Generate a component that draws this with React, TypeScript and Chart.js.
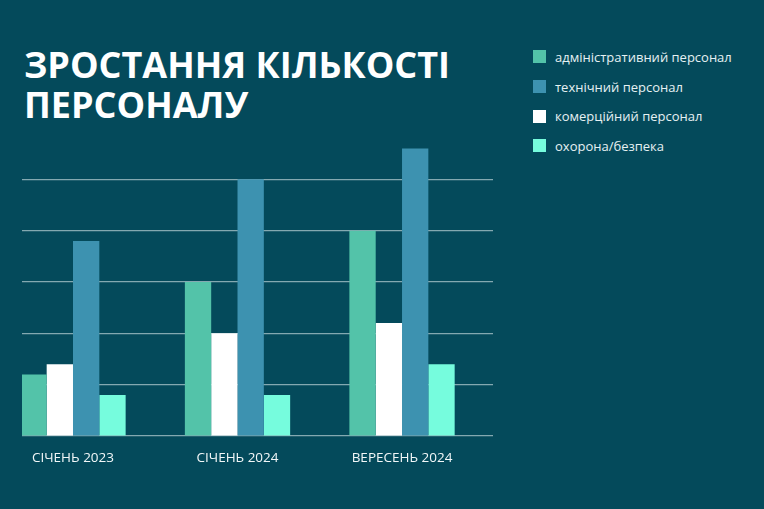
import { useEffect, useRef } from "react";
import { Chart, registerables } from "chart.js";

Chart.register(...registerables);

const categories = ["СІЧЕНЬ 2023", "СІЧЕНЬ 2024", "ВЕРЕСЕНЬ 2024"];
const adminValues = [12, 30, 40];
const commercialValues = [14, 20, 22];
const technicalValues = [38, 50, 56];
const securityValues = [8, 8, 14];

const titleLines = ["ЗРОСТАННЯ КІЛЬКОСТІ", "ПЕРСОНАЛУ"];

const BG = "#044a5b";
const ADMIN = "#53c3a9";
const TECH = "#3d92b0";
const COMM = "#ffffff";
const SEC = "#76fcdd";
const GRID = "#84a9b1";

// legend order differs from bar order
const legendItems = [
  { label: "адміністративний персонал", color: ADMIN },
  { label: "технічний персонал", color: TECH },
  { label: "комерційний персонал", color: COMM },
  { label: "охорона/безпека", color: SEC },
];

const toPoints = (vals: number[]) => vals.map((v, i) => ({ x: i, y: v }));

const App = () => {
  const chartRef: any = useRef(null);

  useEffect(() => {
    const ctx = chartRef.current.getContext("2d");
    const theChart = new Chart(ctx, {
      type: "bar",
      data: {
        datasets: [
          { label: "адміністративний персонал", data: toPoints(adminValues), backgroundColor: ADMIN },
          { label: "комерційний персонал", data: toPoints(commercialValues), backgroundColor: COMM },
          { label: "технічний персонал", data: toPoints(technicalValues), backgroundColor: TECH },
          { label: "охорона/безпека", data: toPoints(securityValues), backgroundColor: SEC },
        ],
      } as any,
      options: {
        animation: false,
        responsive: true,
        maintainAspectRatio: false,
        categoryPercentage: 0.64,
        barPercentage: 1,
        layout: {
          padding: { left: 22, right: 271, top: 128, bottom: 33 },
        },
        plugins: {
          legend: { display: false },
          tooltip: { enabled: false },
        },
        scales: {
          x: {
            type: "linear",
            offset: false,
            min: -0.31,
            max: 2.553,
            grid: { display: false, drawTicks: false },
            border: { display: false },
            afterBuildTicks: (scale: any) => {
              scale.ticks = categories.map((_, i) => ({ value: i }));
            },
            afterFit: (scale: any) => {
              scale.height = 40;
            },
            ticks: {
              padding: 14,
              color: "#f2f7f8",
              font: { family: "'Open Sans', sans-serif", size: 13.5 },
              callback: (v: any) => categories[v] ?? "",
              maxRotation: 0,
              autoSkip: false,
            },
          },
          y: {
            min: 0,
            max: 60,
            ticks: { display: false, stepSize: 10 },
            border: { display: false },
            grid: {
              drawTicks: false,
              lineWidth: 1.2,
              color: (c: any) => (c.tick && c.tick.value === 60 ? "rgba(0,0,0,0)" : GRID),
            },
          },
        },
      } as any,
    });

    return () => {
      theChart.destroy();
    };
  }, []);

  return (
    <div style={{ position: "fixed", inset: 0, background: BG, overflow: "hidden" }}>
      <div
        style={{
          position: "absolute",
          left: 24,
          top: 45,
          color: "#ffffff",
          fontFamily: "'Open Sans', sans-serif",
          fontWeight: 700,
          fontSize: 36,
          lineHeight: "40px",
          letterSpacing: 0,
          whiteSpace: "nowrap",
        }}
      >
        {titleLines.map((t) => (
          <div key={t}>{t}</div>
        ))}
      </div>
      <div style={{ position: "absolute", left: 533, top: 42, display: "flex", flexDirection: "column" }}>
        {legendItems.map((it) => (
          <div key={it.label} style={{ height: 29.7, display: "flex", alignItems: "center" }}>
            <span style={{ width: 13, height: 13, background: it.color, display: "inline-block" }} />
            <span
              style={{
                marginLeft: 9,
                color: "#e6f1f3",
                fontFamily: "'Open Sans', sans-serif",
                fontSize: 13,
                letterSpacing: 0,
                whiteSpace: "nowrap",
              }}
            >
              {it.label}
            </span>
          </div>
        ))}
      </div>
      <div style={{ position: "absolute", left: 0, top: 0, width: 764, height: 509 }}>
        <canvas ref={chartRef} />
      </div>
    </div>
  );
};

export default App;
